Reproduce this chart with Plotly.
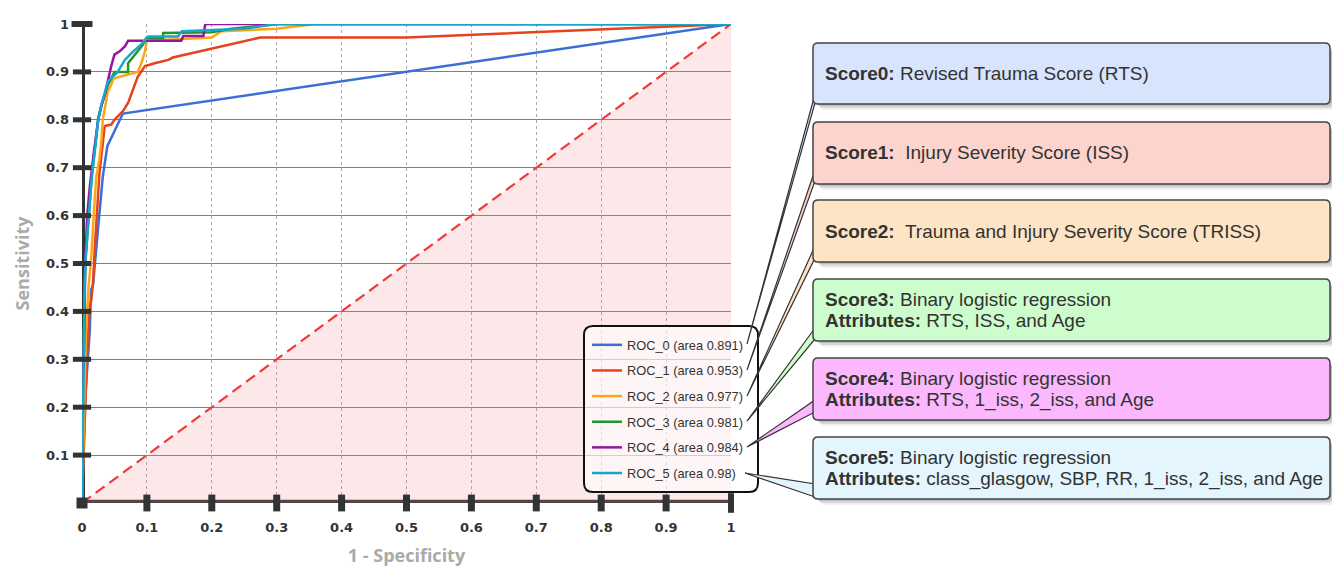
import plotly.graph_objects as go

# ---------------- data ----------------
series_names = ["ROC_0 (area 0.891)", "ROC_1 (area 0.953)", "ROC_2 (area 0.977)",
                "ROC_3 (area 0.981)", "ROC_4 (area 0.984)", "ROC_5 (area 0.98)"]

fpr0 = [0, 0.002, 0.005, 0.008, 0.009, 0.012, 0.014, 0.017, 0.025, 0.032, 0.039, 0.063, 1.0]
tpr0 = [0, 0.10, 0.22, 0.28, 0.30, 0.36, 0.445, 0.455, 0.577, 0.681, 0.745, 0.813, 1.0]

fpr1 = [0, 0.004, 0.008, 0.012, 0.014, 0.017, 0.020, 0.027, 0.035, 0.045, 0.050, 0.063,
        0.071, 0.086, 0.097, 0.112, 0.133, 0.140, 0.275, 0.50, 1.0]
tpr1 = [0, 0.15, 0.32, 0.413, 0.42, 0.46, 0.54, 0.69, 0.787, 0.79, 0.80, 0.818,
        0.835, 0.89, 0.912, 0.918, 0.925, 0.93, 0.972, 0.972, 1.0]

fpr2 = [0, 0.003, 0.006, 0.010, 0.014, 0.018, 0.022, 0.027, 0.030, 0.032, 0.040, 0.045,
        0.048, 0.058, 0.073, 0.086, 0.092, 0.097, 0.100, 0.200, 0.215, 0.300, 0.360, 1.0]
tpr2 = [0, 0.20, 0.35, 0.45, 0.507, 0.60, 0.681, 0.72, 0.758, 0.80, 0.86, 0.873,
        0.885, 0.89, 0.896, 0.90, 0.92, 0.943, 0.965, 0.972, 0.985, 0.99, 1.0, 1.0]

fpr3 = [0, 0.002, 0.005, 0.010, 0.015, 0.020, 0.025, 0.030, 0.040, 0.050, 0.071, 0.071,
        0.081, 0.086, 0.094, 0.099, 0.125, 0.125, 0.200, 0.230, 0.300, 1.0]
tpr3 = [0, 0.30, 0.50, 0.60, 0.68, 0.74, 0.804, 0.83, 0.873, 0.90, 0.90, 0.918,
        0.936, 0.943, 0.957, 0.971, 0.971, 0.981, 0.983, 0.99, 1.0, 1.0]

fpr4 = [0, 0.0, 0.003, 0.005, 0.008, 0.012, 0.018, 0.025, 0.030, 0.035, 0.045, 0.050,
        0.058, 0.066, 0.071, 0.153, 0.156, 0.187, 0.190, 1.0]
tpr4 = [0, 0.25, 0.32, 0.50, 0.60, 0.66, 0.73, 0.80, 0.83, 0.852, 0.912, 0.936,
        0.943, 0.953, 0.965, 0.965, 0.975, 0.975, 1.0, 1.0]

fpr5 = [0, 0.003, 0.004, 0.006, 0.010, 0.015, 0.020, 0.025, 0.030, 0.040, 0.055, 0.066,
        0.079, 0.091, 0.102, 0.148, 0.154, 0.250, 0.300, 1.0]
tpr5 = [0, 0.30, 0.45, 0.52, 0.60, 0.68, 0.74, 0.80, 0.832, 0.88, 0.90, 0.925,
        0.943, 0.957, 0.974, 0.974, 0.985, 0.99, 1.0, 1.0]

tick_vals = [0, 0.1, 0.2, 0.3, 0.4, 0.5, 0.6, 0.7, 0.8, 0.9, 1.0]
tick_text = ["0", "0.1", "0.2", "0.3", "0.4", "0.5", "0.6", "0.7", "0.8", "0.9", "1"]

score_labels = [
    "<b>Score0:</b> Revised Trauma Score (RTS)",
    "<b>Score1:</b>&nbsp; Injury Severity Score (ISS)",
    "<b>Score2:</b>&nbsp; Trauma and Injury Severity Score (TRISS)",
    "<b>Score3:</b> Binary logistic regression<br><b>Attributes:</b> RTS, ISS, and Age",
    "<b>Score4:</b> Binary logistic regression<br><b>Attributes:</b> RTS, 1_iss, 2_iss, and Age",
    "<b>Score5:</b> Binary logistic regression<br><b>Attributes:</b> class_glasgow, SBP, RR, 1_iss, 2_iss, and Age",
]

# ---------------- style ----------------
line_colors = ["#3c6ed8", "#e5421e", "#ffa514", "#22962a", "#9614a3", "#16a6d0"]
box_fills = ["#d7e4fc", "#fdd3cd", "#fde4c4", "#cdfccd", "#fcb8fc", "#e4f5fd"]

OFF = 8  # page body margin
W, H = 1340 - OFF, 570 - OFF
L, R, T, B = 82, 731, 24, 503  # plot area in screen pixels


def X(px):
    return (px - L) / (R - L)


def Y(py):
    return (B - py) / (B - T)


def rrect(x0, y0, x1, y1, r):
    return (f"M {X(x0 + r)},{Y(y0)} L {X(x1 - r)},{Y(y0)} Q {X(x1)},{Y(y0)} {X(x1)},{Y(y0 + r)} "
            f"L {X(x1)},{Y(y1 - r)} Q {X(x1)},{Y(y1)} {X(x1 - r)},{Y(y1)} "
            f"L {X(x0 + r)},{Y(y1)} Q {X(x0)},{Y(y1)} {X(x0)},{Y(y1 - r)} "
            f"L {X(x0)},{Y(y0 + r)} Q {X(x0)},{Y(y0)} {X(x0 + r)},{Y(y0)} Z")


fig = go.Figure()

# chance region and diagonal
fig.add_trace(go.Scatter(x=[0, 1, 1, 0], y=[0, 0, 1, 0], fill="toself",
                         fillcolor="rgba(240,140,140,0.2)", line=dict(width=0),
                         mode="lines", showlegend=False, hoverinfo="skip"))
fig.add_trace(go.Scatter(x=[0, 1], y=[0, 1], mode="lines",
                         line=dict(color="#f03a3a", width=2.2, dash="11px,6px"),
                         showlegend=False, hoverinfo="skip"))

fprs = [fpr0, fpr1, fpr2, fpr3, fpr4, fpr5]
tprs = [tpr0, tpr1, tpr2, tpr3, tpr4, tpr5]
for i in range(6):
    fig.add_trace(go.Scatter(x=fprs[i], y=tprs[i], mode="lines", name=series_names[i],
                             legendgroup=f"g{i}",
                             line=dict(color=line_colors[i], width=2.5), cliponaxis=False))

# axis decorations (dumbbell ticks)
AX = "#333333"
fig.add_trace(go.Scatter(x=[0] * 9, y=tick_vals[1:10], mode="markers", showlegend=False,
                         hoverinfo="skip", cliponaxis=False,
                         marker=dict(symbol="line-ew-open", size=13, color=AX,
                                     line=dict(color=AX, width=5))))
fig.add_trace(go.Scatter(x=[0], y=[1.0], mode="markers", showlegend=False,
                         hoverinfo="skip", cliponaxis=False,
                         marker=dict(symbol="line-ew-open", size=15, color=AX,
                                     line=dict(color=AX, width=6))))
fig.add_trace(go.Scatter(x=tick_vals[1:10], y=[0] * 9, mode="markers", showlegend=False,
                         hoverinfo="skip", cliponaxis=False,
                         marker=dict(symbol="line-ns-open", size=12, color=AX,
                                     line=dict(color=AX, width=7))))
fig.add_trace(go.Scatter(x=[1.0], y=[0], mode="markers", showlegend=False,
                         hoverinfo="skip", cliponaxis=False,
                         marker=dict(symbol="line-ns-open", size=14, color=AX,
                                     line=dict(color=AX, width=6))))
fig.add_trace(go.Scatter(x=[0], y=[0], mode="markers", showlegend=False,
                         hoverinfo="skip", cliponaxis=False,
                         marker=dict(symbol="square", size=11, color=AX)))

shapes = []
# thick axis lines at x=0 and y=0
shapes.append(dict(type="line", xref="x", yref="y", x0=0, x1=0, y0=0, y1=1,
                   line=dict(color=AX, width=6), layer="below"))
shapes.append(dict(type="line", xref="x", yref="y", x0=0, x1=1, y0=0, y1=0,
                   line=dict(color=AX, width=6.5), layer="below"))
# legend rounded box
shapes.append(dict(type="path", xref="paper", yref="paper", path=rrect(584, 326, 758, 492, 9),
                   fillcolor="rgba(255,255,255,0.6)", line=dict(color="#111", width=2),
                   layer="above"))

boxes = [(43, 104), (122, 184), (200, 262), (279, 341), (358, 420), (437, 499)]
tips = [(747, 344), (747, 370), (747, 396), (747, 421), (747, 447), (745, 473)]
bases = [(94, 103), (170, 181), (246, 258), (328, 339), (400, 412), (484, 497)]
bx0, bx1 = 813, 1330

for i in range(6):
    tx, ty = tips[i]
    b1, b2 = bases[i]
    shapes.append(dict(type="path", xref="paper", yref="paper",
                       path=f"M {X(tx)},{Y(ty)} L {X(bx0 + 2)},{Y(b1)} L {X(bx0 + 2)},{Y(b2)} Z",
                       fillcolor=box_fills[i], line=dict(color="#333", width=1.2), layer="above"))
for i in range(6):
    y0, y1 = boxes[i]
    for d, a in [(6, 0.06), (4, 0.10), (2, 0.12)]:
        shapes.append(dict(type="path", xref="paper", yref="paper",
                           path=rrect(bx0 + d + 1, y0 + d + 2, bx1 + d, y1 + d, 5),
                           fillcolor=f"rgba(0,0,0,{a})", line=dict(width=0), layer="above"))
    shapes.append(dict(type="path", xref="paper", yref="paper",
                       path=rrect(bx0, y0, bx1, y1, 5),
                       fillcolor=box_fills[i], line=dict(color="#444", width=1.5), layer="above"))

annotations = []
box_font = dict(family="Liberation Sans, Arial, sans-serif", size=19, color="#333")
for i in range(6):
    y0, y1 = boxes[i]
    yc = (y0 + y1) / 2
    lines = score_labels[i].split("<br>")
    n = len(lines)
    for k, txt in enumerate(lines):
        yy = yc + (k - (n - 1) / 2) * 22
        annotations.append(dict(xref="paper", yref="paper", x=X(823), y=Y(yy),
                                xanchor="left", yanchor="middle", align="left",
                                text=txt, showarrow=False, font=box_font))

fig.update_layout(
    width=W, height=H,
    margin=dict(l=L - OFF, r=W - (R - OFF), t=T - OFF, b=H - (B - OFF), autoexpand=False),
    paper_bgcolor="white", plot_bgcolor="white",
    shapes=shapes, annotations=annotations,
    showlegend=True,
    legend=dict(x=X(587), y=Y(330), xanchor="left", yanchor="top",
                bgcolor="rgba(0,0,0,0)", borderwidth=0, tracegroupgap=6,
                traceorder="grouped",
                font=dict(family="Liberation Sans, Arial, sans-serif", size=12.8, color="#333")),
    xaxis=dict(range=[0, 1], tickvals=tick_vals, ticktext=tick_text, showgrid=True,
               gridcolor="#aaa", griddash="dot", gridwidth=1, zeroline=False,
               showline=False, ticks="", automargin=False,
               ticklabelstandoff=15,
               tickfont=dict(family="DejaVu Sans", size=13, color="#333", weight="bold"),
               title=dict(text="1 - Specificity", standoff=15,
                          font=dict(family="Open Sans", size=18, color="#aaa", weight="bold"))),
    yaxis=dict(range=[0, 1], tickvals=tick_vals[1:], ticktext=tick_text[1:], showgrid=True,
               gridcolor="#808080", gridwidth=1.2, zeroline=False,
               showline=False, ticks="", automargin=False,
               ticklabelstandoff=12,
               tickfont=dict(family="DejaVu Sans", size=13, color="#333", weight="bold"),
               title=dict(text="Sensitivity", standoff=11,
                          font=dict(family="Open Sans", size=18, color="#aaa", weight="bold"))),
)

fig.write_html("out.html")
